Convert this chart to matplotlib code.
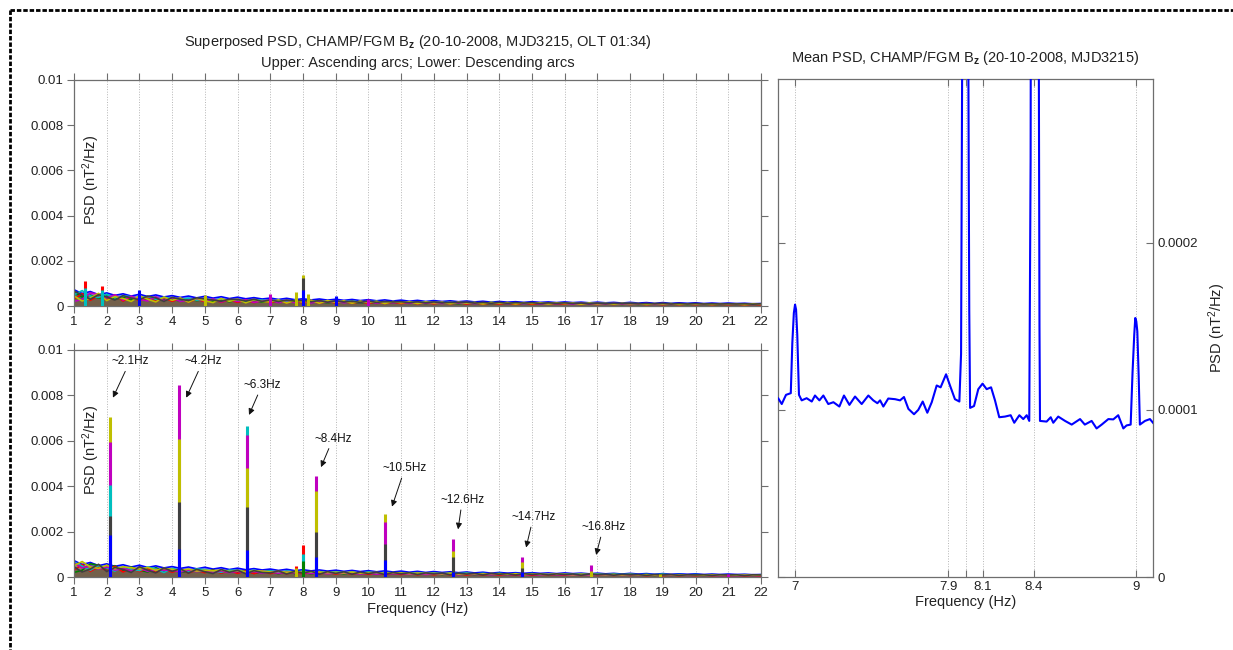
import matplotlib
matplotlib.use('Agg')
import matplotlib.pyplot as plt
import numpy as np
from matplotlib.lines import Line2D

plt.rcParams['font.family'] = ['Liberation Sans', 'DejaVu Sans']
plt.rcParams['mathtext.fontset'] = 'custom'
plt.rcParams['mathtext.rm'] = 'Liberation Sans'
plt.rcParams['mathtext.it'] = 'Liberation Sans:italic'
plt.rcParams['mathtext.bf'] = 'Liberation Sans:bold'

# MATLAB-style line colours: b, g, r, c, m, y, k
C_B, C_G, C_R, C_C, C_M, C_Y, C_K = ('#0000ff', '#008000', '#ff0000', '#00bfbf',
                                     '#bf00bf', '#bfbf00', '#404040')
trace_colors = [C_B, C_G, C_R, C_C, C_M, C_Y, C_K]

# background spectra, 1..22 Hz every 0.25 Hz, units of 1e-5 nT^2/Hz
floor_freq = np.arange(1.0, 22.01, 0.25)
floor_a = [62, 40, 48, 35, 44, 30, 38, 27, 40, 25, 33, 29, 31, 22, 30, 24, 28, 20, 27, 19,
           25, 18, 24, 17, 23, 16, 22, 18, 21, 15, 20, 14, 19, 17, 18, 13, 18, 12, 17, 14,
           16, 12, 16, 11, 15, 13, 14, 10, 14, 11, 13, 10, 13, 10, 12, 9, 12, 9, 12, 10,
           11, 8, 11, 8, 10, 9, 10, 7, 10, 7, 9, 8, 9, 7, 9, 7, 8, 7, 8, 6, 8, 6, 8, 7, 7]
floor_b = [30, 55, 25, 45, 28, 47, 22, 40, 24, 38, 20, 36, 21, 33, 18, 30, 19, 29, 17, 28,
           16, 27, 15, 25, 15, 24, 14, 23, 14, 22, 13, 21, 13, 20, 12, 19, 12, 18, 11, 17,
           11, 17, 10, 16, 10, 15, 10, 15, 9, 14, 9, 13, 9, 13, 8, 12, 8, 12, 8, 12,
           8, 11, 7, 11, 7, 10, 7, 10, 7, 10, 6, 9, 6, 9, 6, 9, 6, 9, 6, 8, 6, 8, 5, 8, 5]
floor_c = [50, 68, 44, 38, 52, 36, 45, 41, 35, 42, 30, 38, 34, 28, 35, 26, 30, 27, 31, 24,
           28, 23, 27, 26, 22, 25, 21, 24, 20, 23, 22, 19, 21, 18, 22, 17, 19, 20, 16, 19,
           18, 15, 17, 16, 16, 14, 17, 13, 15, 14, 13, 15, 14, 12, 14, 11, 13, 12, 11, 13,
           12, 10, 12, 11, 11, 10, 11, 9, 11, 9, 10, 9, 10, 10, 8, 10, 9, 8, 9, 9, 9, 8, 8, 9, 8]
floor_d = [20, 30, 58, 52, 36, 50, 26, 44, 30, 22, 41, 24, 36, 20, 26, 33, 22, 31, 18, 29,
           20, 28, 16, 22, 26, 14, 25, 15, 24, 13, 23, 16, 22, 14, 20, 15, 21, 12, 19, 14,
           18, 12, 18, 12, 17, 11, 16, 12, 16, 10, 15, 11, 15, 10, 14, 10, 14, 9, 13, 10,
           13, 8, 13, 9, 12, 8, 12, 8, 11, 8, 11, 7, 11, 7, 10, 8, 10, 7, 10, 7, 9, 7, 9, 7, 9]
floor_e = [45, 22, 35, 56, 24, 42, 33, 20, 45, 30, 18, 40, 25, 36, 17, 34, 23, 15, 33, 21,
           30, 14, 28, 20, 18, 27, 13, 25, 17, 26, 12, 24, 16, 23, 12, 22, 15, 21, 11, 20,
           14, 19, 11, 18, 14, 17, 10, 17, 13, 16, 9, 16, 12, 15, 9, 15, 11, 14, 9, 14,
           11, 13, 8, 13, 10, 12, 8, 12, 10, 11, 7, 11, 9, 11, 7, 10, 9, 10, 7, 10, 9, 10, 6, 10, 9]
floor_f = [66, 48, 30, 50, 40, 26, 46, 35, 28, 44, 36, 20, 38, 30, 24, 36, 32, 26, 21, 30,
           29, 22, 30, 20, 27, 20, 26, 22, 25, 19, 24, 17, 23, 18, 21, 16, 22, 16, 20, 18,
           19, 15, 19, 14, 18, 14, 16, 15, 17, 13, 16, 12, 16, 12, 15, 13, 15, 11, 14, 12,
           14, 11, 13, 10, 13, 10, 12, 11, 12, 10, 11, 10, 12, 9, 11, 9, 11, 9, 10, 9, 10, 9, 10, 8, 10]
floor_g = [72, 55, 64, 50, 58, 47, 54, 44, 52, 42, 49, 40, 46, 38, 44, 36, 43, 35, 41, 33,
           39, 32, 37, 31, 35, 29, 34, 28, 32, 27, 31, 26, 30, 25, 29, 24, 28, 23, 27, 22,
           26, 21, 25, 20, 24, 20, 23, 19, 22, 18, 21, 17, 20, 17, 19, 16, 19, 16, 18, 15,
           18, 15, 17, 14, 17, 14, 16, 13, 16, 13, 15, 12, 15, 12, 14, 12, 14, 11, 13, 11,
           13, 11, 12, 10, 11]
floor_traces = [floor_a, floor_b, floor_c, floor_d, floor_e, floor_f, floor_g]

# narrow spectral lines, ascending arcs (Hz, 1e-5 nT^2/Hz)
asc_freq = [1.35, 1.85, 3.0, 5.0, 7.0, 7.8, 8.0, 8.15, 9.0, 10.0]
asc_red = [110, 90, 0, 0, 0, 0, 0, 0, 0, 0]
asc_cyan = [80, 70, 0, 0, 0, 0, 0, 0, 0, 0]
asc_blue = [0, 0, 70, 0, 0, 0, 70, 0, 45, 0]
asc_yellow = [0, 0, 0, 50, 0, 60, 135, 55, 0, 0]
asc_magenta = [0, 0, 0, 0, 55, 0, 0, 0, 0, 30]
asc_dark = [0, 0, 0, 0, 0, 0, 125, 0, 0, 0]

# spectral lines, descending arcs
desc_freq = [2.1, 4.2, 6.3, 7.8, 8.0, 8.4, 10.5, 12.6, 14.7, 16.8, 18.9, 21.0]
desc_yellow = [706, 610, 480, 40, 0, 380, 276, 116, 64, 27, 15, 0]
desc_magenta = [596, 846, 625, 0, 0, 444, 242, 167, 89, 52, 0, 12]
desc_cyan = [404, 0, 665, 0, 100, 0, 0, 0, 0, 0, 0, 0]
desc_dark = [270, 330, 308, 0, 0, 198, 147, 86, 40, 0, 0, 0]
desc_blue = [184, 125, 118, 0, 0, 88, 73, 20, 20, 0, 0, 0]
desc_red = [0, 0, 0, 50, 140, 0, 0, 0, 0, 0, 0, 0]
desc_green = [0, 0, 0, 0, 70, 0, 0, 0, 0, 0, 0, 0]

# harmonic labels: text, text position, arrow tip (Hz, nT^2/Hz)
harm_labels = ['~2.1Hz', '~4.2Hz', '~6.3Hz', '~8.4Hz', '~10.5Hz', '~12.6Hz', '~14.7Hz', '~16.8Hz']
harm_text_x = [2.71, 4.94, 6.75, 8.92, 11.12, 12.87, 15.04, 17.18]
harm_text_y = [0.0095, 0.0095, 0.00846, 0.0061, 0.0048, 0.0034, 0.00264, 0.0022]
harm_tip_x = [2.19, 4.43, 6.35, 8.55, 10.72, 12.74, 14.82, 16.96]
harm_tip_y = [0.0079, 0.0079, 0.00714, 0.00484, 0.0031, 0.0021, 0.0013, 0.00097]

# mean PSD around 7-9 Hz, units of 1e-4 nT^2/Hz
mean_freq = [6.902, 6.922, 6.947, 6.975, 6.984, 6.993, 7.0, 7.006, 7.013, 7.023, 7.039,
             7.068, 7.098, 7.117, 7.143, 7.166, 7.195, 7.225, 7.26, 7.287, 7.319, 7.352,
             7.391, 7.43, 7.459, 7.483, 7.499, 7.518, 7.547, 7.587, 7.616, 7.639, 7.665,
             7.698, 7.723, 7.749, 7.776, 7.802, 7.831, 7.854, 7.886, 7.909, 7.938, 7.964,
             7.974, 7.982, 7.99, 8.0, 8.01, 8.017, 8.022, 8.027, 8.05, 8.075, 8.1, 8.124,
             8.15, 8.173, 8.198, 8.232, 8.265, 8.286, 8.316, 8.339, 8.359, 8.374, 8.382,
             8.39, 8.4, 8.41, 8.42, 8.428, 8.434, 8.437, 8.476, 8.5, 8.515, 8.544, 8.584,
             8.623, 8.672, 8.70, 8.74, 8.769, 8.799, 8.838, 8.867, 8.896, 8.926, 8.945,
             8.969, 8.98, 8.99, 8.996, 9.002, 9.008, 9.016, 9.023, 9.053, 9.082, 9.1]
mean_psd = [1.068, 1.035, 1.09, 1.10, 1.40, 1.58, 1.63, 1.60, 1.45, 1.09, 1.057,
            1.07, 1.05, 1.086, 1.057, 1.086, 1.035, 1.046, 1.02, 1.086, 1.03, 1.08,
            1.035, 1.086, 1.057, 1.04, 1.057, 1.02, 1.068, 1.064, 1.057, 1.077, 1.006,
            0.974, 1.0, 1.05, 0.983, 1.046, 1.146, 1.135, 1.213, 1.146, 1.064, 1.05,
            1.336, 3.5, 6.0, 7.0, 6.0, 3.0, 1.6, 1.012, 1.023, 1.124, 1.157, 1.124,
            1.135, 1.057, 0.956, 0.96, 0.968, 0.923, 0.968, 0.945, 0.968, 0.934, 2.5,
            8.0, 14.0, 15.0, 10.0, 4.0, 1.5, 0.934, 0.93, 0.956, 0.923, 0.96, 0.934,
            0.912, 0.945, 0.912, 0.934, 0.889, 0.912, 0.945, 0.943, 0.968, 0.889, 0.907,
            0.912, 1.225, 1.45, 1.55, 1.53, 1.47, 1.2, 0.912, 0.934, 0.945, 0.923]
mean_ticks = [7, 7.9, 8.0, 8.1, 8.4, 9]
mean_tick_labels = ['7', '7.9', '', '8.1', '8.4', '9']

W, H = 1233, 650
fig = plt.figure(figsize=(W / 100, H / 100), dpi=100)
fig.patch.set_facecolor('white')

SPINE = '#6e6e6e'
TXT = '#222222'
ylabel = r'PSD (nT$^2$/Hz)'


def fig_box(left, top, right, bottom):
    return [left / W, 1 - bottom / H, (right - left) / W, (bottom - top) / H]


def style_left(ax):
    ax.set_xlim(1, 22)
    ax.set_ylim(0, 0.01)
    ax.set_xticks(range(1, 23))
    ax.set_yticks([0, 0.002, 0.004, 0.006, 0.008, 0.01])
    ax.set_yticklabels(['0', '0.002', '0.004', '0.006', '0.008', '0.01'])
    ax.tick_params(direction='out', length=5, width=0.8, color=SPINE, labelsize=9.5,
                   labelcolor=TXT, top=True, right=True, pad=2.5)
    ax.grid(axis='x', linestyle=':', color='#b5b5b5', linewidth=0.7)
    ax.set_axisbelow(True)
    for s in ax.spines.values():
        s.set_color(SPINE)
        s.set_linewidth(0.9)
    ax.text(1.54, 0.0056, ylabel, rotation=90, ha='center', va='center',
            fontsize=10.5, color=TXT, zorder=6)


def draw_floor(ax, order):
    # translucent fill under each spectrum gives the dense noise band,
    # the spectra themselves are drawn on top
    for k, idx in enumerate(order):
        vals = np.array(floor_traces[idx]) * 1e-5
        ax.fill_between(floor_freq, 0, vals, color=trace_colors[k], alpha=0.45,
                        lw=0, zorder=2)
    for k, idx in enumerate(order):
        vals = np.array(floor_traces[idx]) * 1e-5
        ax.plot(floor_freq, vals, color=trace_colors[k], lw=1.2, zorder=2.5)


def draw_lines(ax, freqs, by_color):
    for i, f in enumerate(freqs):
        segs = sorted(((h[i], c) for c, h in by_color if h[i] > 0), reverse=True)
        for z, (h, c) in enumerate(segs):
            ax.vlines(f, 0, h * 1e-5, color=c, lw=2.2, zorder=3 + z * 0.01)


# upper panel: ascending arcs
ax_up = fig.add_axes(fig_box(74, 80, 761, 306))
style_left(ax_up)
draw_floor(ax_up, [6, 0, 1, 2, 3, 4, 5])
draw_lines(ax_up, asc_freq, [(C_R, asc_red), (C_C, asc_cyan), (C_B, asc_blue),
                             (C_Y, asc_yellow), (C_M, asc_magenta), (C_K, asc_dark)])

# lower panel: descending arcs
ax_dn = fig.add_axes(fig_box(74, 350, 761, 577))
style_left(ax_dn)
draw_floor(ax_dn, [6, 3, 1, 5, 0, 2, 4])
draw_lines(ax_dn, desc_freq, [(C_Y, desc_yellow), (C_M, desc_magenta), (C_C, desc_cyan),
                              (C_K, desc_dark), (C_B, desc_blue), (C_R, desc_red),
                              (C_G, desc_green)])
ax_dn.set_xlabel('Frequency (Hz)', fontsize=10.5, color=TXT, labelpad=2)

for lab, tx, ty, px, py in zip(harm_labels, harm_text_x, harm_text_y, harm_tip_x, harm_tip_y):
    ax_dn.annotate(lab, xy=(px, py), xytext=(tx, ty), ha='center', va='center',
                   fontsize=8.5, color='#111111', zorder=7,
                   arrowprops=dict(arrowstyle='-|>', color='#111111', lw=0.7,
                                   mutation_scale=9, shrinkA=1, shrinkB=0))

# right panel: mean spectrum
ax_m = fig.add_axes(fig_box(778, 79, 1153, 577))
ax_m.plot(mean_freq, np.array(mean_psd) * 1e-4, color='#0000ff', lw=1.5, zorder=3)
ax_m.set_xlim(6.9, 9.1)
ax_m.set_ylim(0, 0.000298)
ax_m.set_xticks(mean_ticks)
ax_m.set_xticklabels(mean_tick_labels)
ax_m.set_yticks([0, 0.0001, 0.0002])
ax_m.set_yticklabels(['0', '0.0001', '0.0002'])
ax_m.yaxis.tick_right()
ax_m.yaxis.set_label_position('right')
ax_m.tick_params(direction='in', length=5, width=0.8, color=SPINE, labelsize=9.5,
                 labelcolor=TXT, top=True, left=True, right=True, labelleft=False,
                 labelright=True, pad=3)
ax_m.grid(axis='x', linestyle=':', color='#b5b5b5', linewidth=0.7)
ax_m.set_axisbelow(True)
for s in ax_m.spines.values():
    s.set_color(SPINE)
    s.set_linewidth(0.9)
ax_m.set_xlabel('Frequency (Hz)', fontsize=10.5, color=TXT, labelpad=1)
ax_m.set_ylabel(ylabel, fontsize=10.5, color=TXT, labelpad=6)

# titles
fig.text(417.5 / W, 1 - 42 / H,
         r'Superposed PSD, CHAMP/FGM B$_{\mathbf{z}}$ (20-10-2008, MJD3215, OLT 01:34)',
         ha='center', va='center', fontsize=10.5, color=TXT)
fig.text(417.5 / W, 1 - 63 / H, 'Upper: Ascending arcs; Lower: Descending arcs',
         ha='center', va='center', fontsize=10.5, color=TXT)
fig.text(965.5 / W, 1 - 58 / H,
         r'Mean PSD, CHAMP/FGM B$_{\mathbf{z}}$ (20-10-2008, MJD3215)',
         ha='center', va='center', fontsize=10.5, color=TXT)

# dashed frame along the top and left edges
dash = (0, (1.6, 0.7))
fig.add_artist(Line2D([10 / W, 1.0], [1 - 10 / H, 1 - 10 / H], transform=fig.transFigure,
                      color='black', lw=2.0, linestyle=dash))
fig.add_artist(Line2D([10 / W, 10 / W], [1 - 10 / H, 0.0], transform=fig.transFigure,
                      color='black', lw=2.0, linestyle=dash))

fig.savefig('out.png', dpi=100)
